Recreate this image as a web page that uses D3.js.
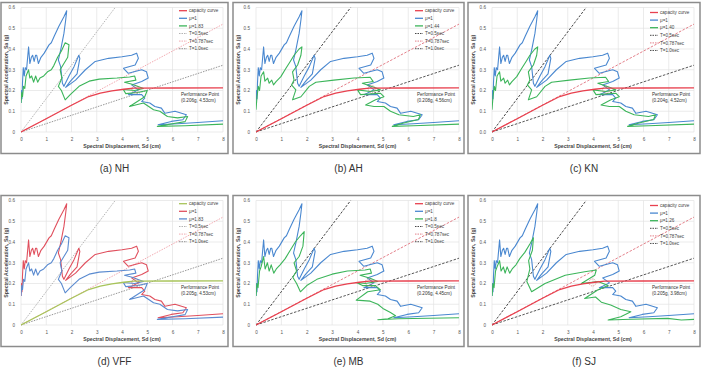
<!DOCTYPE html>
<html>
<head>
<meta charset="utf-8">
<script src="https://cdn.jsdelivr.net/npm/d3@7"></script>
<style>
  body { margin: 0; background: #fff; }
  text { font-family: "Liberation Sans", Arial, sans-serif; }
</style>
</head>
<body>
<div></div>
<script>
// ---- data ----
var captions = ["(a) NH", "(b) AH", "(c) KN", "(d) VFF", "(e) MB", "(f) SJ"];
var muLabels = ["μ=1.83", "μ=1.44", "μ=1.40", "μ=1.83", "μ=1.8", "μ=1.26"];
var perfLabels = ["(0.206g, 4.53cm)", "(0.208g, 4.56cm)", "(0.204g, 4.52cm)",
                  "(0.205g, 4.53cm)", "(0.206g, 4.45cm)", "(0.205g, 3.98cm)"];
var perfSd = [4.53, 4.56, 4.52, 4.53, 4.45, 3.98];
var perfSa = [0.206, 0.208, 0.204, 0.205, 0.206, 0.205];
var periodLabels = ["T=0.5sec", "T=0.787sec", "T=1.0sec"];
// where each constant-period line leaves the plot
var periodEnds = [[3.73, 0.6], [8, 0.52], [8, 0.322]];
var xTicks = [0, 1, 2, 3, 4, 5, 6, 7, 8];
var yTicks = [0, 0.1, 0.2, 0.3, 0.4, 0.5, 0.6];

var capacity = [[0, 0], [1, 0.064], [2, 0.129], [2.68, 0.171], [3.14, 0.187],
                [3.6, 0.198], [4.07, 0.206], [4.46, 0.211], [6, 0.212], [8, 0.213]];

// mu=1 demand spectrum (same record in every panel)
var demand1 = [[0.0, 0.14], [0.02, 0.2], [0.04, 0.16], [0.06, 0.24], [0.09, 0.31], [0.13, 0.27],
  [0.17, 0.31], [0.22, 0.3], [0.3, 0.41], [0.35, 0.33], [0.41, 0.36], [0.46, 0.37], [0.52, 0.34],
  [0.58, 0.37], [0.62, 0.37], [0.69, 0.33], [0.79, 0.36], [0.92, 0.38], [1.11, 0.42], [1.2, 0.43],
  [1.31, 0.46], [1.5, 0.51], [1.7, 0.555], [1.81, 0.584], [1.77, 0.54], [1.7, 0.475], [1.57, 0.395],
  [1.48, 0.347], [1.57, 0.315], [1.64, 0.235], [1.7, 0.22], [1.9, 0.27], [2.1, 0.315], [2.29, 0.37],
  [2.33, 0.355], [2.22, 0.28], [1.96, 0.245], [1.77, 0.215], [2.16, 0.25], [2.55, 0.3], [2.94, 0.34],
  [3.47, 0.355], [4.0, 0.363], [4.38, 0.37], [4.58, 0.38], [4.65, 0.355], [4.52, 0.323], [4.06, 0.307],
  [4.25, 0.283], [4.78, 0.3], [4.97, 0.29], [5.04, 0.26], [4.78, 0.243], [4.38, 0.227], [4.65, 0.203],
  [4.38, 0.187], [4.25, 0.18], [4.78, 0.18], [4.9, 0.163], [4.78, 0.147], [5.1, 0.14], [5.3, 0.123],
  [5.56, 0.115], [5.7, 0.09], [6.1, 0.1], [6.55, 0.083], [6.41, 0.059], [5.95, 0.051], [5.43, 0.035],
  [6.2, 0.04], [7.0, 0.046], [8.0, 0.054]];

// reduced spectra
var reducedA = [[0.0, 0.14], [0.03, 0.19], [0.06, 0.17], [0.1, 0.22], [0.15, 0.21], [0.2, 0.27],
  [0.3, 0.3], [0.35, 0.26], [0.42, 0.27], [0.5, 0.24], [0.58, 0.27], [0.66, 0.24], [0.75, 0.26],
  [0.9, 0.27], [1.05, 0.29], [1.2, 0.3], [1.3, 0.32], [1.45, 0.36], [1.6, 0.39], [1.75, 0.43],
  [1.9, 0.42], [1.85, 0.36], [1.7, 0.33], [1.55, 0.3], [1.62, 0.26], [1.48, 0.22], [1.6, 0.2],
  [1.75, 0.155], [1.95, 0.18], [2.3, 0.22], [2.7, 0.245], [3.1, 0.255], [3.8, 0.26], [4.3, 0.265],
  [4.5, 0.27], [4.55, 0.25], [4.1, 0.24], [4.4, 0.23], [4.85, 0.21], [4.5, 0.2], [4.05, 0.205],
  [4.15, 0.185], [4.6, 0.19], [5.0, 0.2], [4.9, 0.17], [4.3, 0.123], [4.85, 0.14], [5.25, 0.107],
  [5.5, 0.1], [5.8, 0.075], [6.2, 0.068], [6.6, 0.075], [6.5, 0.05], [6.0, 0.04], [5.4, 0.027],
  [6.5, 0.03], [8.0, 0.038]];
var reducedB = [[0.0, 0.107], [0.04, 0.17], [0.09, 0.22], [0.14, 0.2], [0.2, 0.27], [0.3, 0.29],
  [0.35, 0.245], [0.46, 0.26], [0.52, 0.235], [0.62, 0.25], [0.69, 0.227], [0.79, 0.243], [0.98, 0.267],
  [1.18, 0.307], [1.35, 0.34], [1.5, 0.37], [1.7, 0.4], [1.81, 0.41], [1.77, 0.37], [1.64, 0.323],
  [1.44, 0.29], [1.5, 0.25], [1.4, 0.227], [1.57, 0.203], [1.44, 0.155], [1.77, 0.17], [2.1, 0.22],
  [2.36, 0.24], [3.07, 0.25], [3.86, 0.26], [4.5, 0.264], [4.62, 0.243], [4.19, 0.235], [4.65, 0.216],
  [4.9, 0.203], [4.5, 0.195], [4.0, 0.203], [4.12, 0.18], [4.9, 0.187], [5.04, 0.17], [4.71, 0.155],
  [4.32, 0.13], [4.65, 0.123], [5.04, 0.123], [5.3, 0.1], [5.63, 0.083], [6.2, 0.075], [6.48, 0.083],
  [6.4, 0.06], [5.82, 0.043], [5.37, 0.027], [6.2, 0.03], [8.0, 0.038]];
var reducedE = [[0.0, 0.14], [0.04, 0.2], [0.08, 0.18], [0.14, 0.26], [0.2, 0.28], [0.3, 0.33],
  [0.36, 0.27], [0.45, 0.3], [0.52, 0.26], [0.6, 0.29], [0.7, 0.25], [0.8, 0.27], [0.95, 0.29],
  [1.15, 0.32], [1.35, 0.36], [1.55, 0.4], [1.75, 0.43], [1.9, 0.45], [1.85, 0.38], [1.7, 0.33],
  [1.5, 0.3], [1.6, 0.26], [1.45, 0.23], [1.6, 0.2], [1.75, 0.16], [2.0, 0.19], [2.4, 0.22],
  [3.0, 0.245], [3.6, 0.26], [4.3, 0.265], [4.5, 0.27], [4.55, 0.25], [4.1, 0.24], [4.5, 0.225],
  [4.8, 0.21], [4.3, 0.2], [3.95, 0.205], [4.2, 0.19], [4.7, 0.19], [4.9, 0.17], [4.4, 0.16],
  [3.95, 0.12], [4.5, 0.115], [4.8, 0.1], [5.0, 0.08], [5.3, 0.06], [5.5, 0.045], [5.2, 0.03],
  [4.8, 0.025], [5.6, 0.03], [8.0, 0.035]];
var reducedF = [[0.0, 0.14], [0.04, 0.2], [0.08, 0.18], [0.14, 0.26], [0.2, 0.28], [0.3, 0.31],
  [0.36, 0.26], [0.45, 0.28], [0.52, 0.25], [0.6, 0.28], [0.7, 0.25], [0.8, 0.27], [0.95, 0.29],
  [1.1, 0.32], [1.3, 0.35], [1.5, 0.39], [1.64, 0.42], [1.6, 0.36], [1.45, 0.31], [1.5, 0.27],
  [1.38, 0.21], [1.57, 0.16], [2.1, 0.2], [2.9, 0.24], [3.67, 0.257], [4.13, 0.265], [4.07, 0.24],
  [3.54, 0.2], [4.2, 0.21], [4.6, 0.19], [4.2, 0.17], [3.67, 0.128], [4.1, 0.135], [4.33, 0.11],
  [4.7, 0.096], [5.1, 0.075], [5.5, 0.064], [5.1, 0.04], [4.6, 0.024], [5.5, 0.028], [6.95, 0.032],
  [7.5, 0.024], [8.0, 0.027]];
var reducedSets = [reducedA, reducedB, reducedB, reducedA, reducedE, reducedF];

// ---- layout ----
var W = 702, H = 372;
var colFrame = [[1, 228], [233, 464], [468, 700]];
var colPlot = [[21, 223], [256, 459], [492, 694]];
var rowTop = [0, 193];

var svg = d3.select("div").append("svg")
    .attr("width", W).attr("height", H)
    .style("background", "#fff");

var lineColors = {
  normal: { cap: "#e8414f", mu1: "#4a88d0", red: "#3cb55a" },
  vff: { cap: "#a8c45a", mu1: "#e0505e", red: "#5b8bd0" }
};

var drawPanel = function(i) {
  var col = i % 3, row = Math.floor(i / 3);
  var oy = rowTop[row];
  var fx = colFrame[col], px = colPlot[col];
  var top = 7.5 + oy, bottom = 132 + oy;
  var cols = i === 3 ? lineColors.vff : lineColors.normal;
  var light = (i === 0 || i === 3);
  var periodColors = light ? ["#aaaaaa", "#f0a0a8", "#8a8a8a"] : ["#333333", "#e0707c", "#444444"];

  var x = d3.scaleLinear().domain([0, 8]).range([px[0], px[1]]);
  var y = d3.scaleLinear().domain([0, 0.6]).range([bottom, top]);
  var g = svg.append("g");

  // frame
  g.append("rect")
      .attr("x", fx[0]).attr("y", 2.5 + oy)
      .attr("width", fx[1] - fx[0]).attr("height", 151)
      .attr("fill", "#fff").attr("stroke", "#8c8c8c").attr("stroke-width", 1.5);

  // grid
  g.append("g").selectAll("line").data(xTicks).join("line")
      .attr("x1", d => x(d)).attr("x2", d => x(d))
      .attr("y1", top).attr("y2", bottom)
      .attr("stroke", "#e2e2e2").attr("stroke-width", 0.7);
  g.append("g").selectAll("line").data(yTicks).join("line")
      .attr("x1", px[0]).attr("x2", px[1])
      .attr("y1", d => y(d)).attr("y2", d => y(d))
      .attr("stroke", "#e2e2e2").attr("stroke-width", 0.7);

  // axes as d3 axes, no domain line
  var xAxis = g.append("g").attr("transform", "translate(0," + (bottom + 3) + ")")
      .call(d3.axisBottom(x).tickValues(xTicks).tickSize(0).tickFormat(d3.format("d")));
  var yAxis = g.append("g").attr("transform", "translate(" + (px[0] - 3) + ",0)")
      .call(d3.axisLeft(y).tickValues(yTicks).tickSize(0)
            .tickFormat(d => d === 0 && i !== 2 ? "0" : d3.format(".1f")(d)));
  [xAxis, yAxis].forEach(function(a) {
    a.select(".domain").remove();
    a.selectAll("text").attr("font-size", 4.6).attr("fill", "#555")
        .attr("font-family", "Liberation Sans, Arial, sans-serif");
  });

  g.append("text")
      .attr("x", (px[0] + px[1]) / 2).attr("y", bottom + 15.5)
      .attr("text-anchor", "middle").attr("font-size", 5.2).attr("font-weight", "bold")
      .attr("fill", "#444").text("Spectral Displacement, Sd (cm)");
  g.append("text")
      .attr("transform", "translate(" + (fx[0] + 6.5) + "," + ((top + bottom) / 2) + ") rotate(-90)")
      .attr("text-anchor", "middle").attr("font-size", 5.2).attr("font-weight", "bold")
      .attr("fill", "#444").text("Spectral Acceleration, Sa (g)");

  // clip
  var clipId = "clip" + i;
  g.append("clipPath").attr("id", clipId).append("rect")
      .attr("x", px[0]).attr("y", top - 1).attr("width", px[1] - px[0] + 1).attr("height", bottom - top + 2);
  var plot = g.append("g").attr("clip-path", "url(#" + clipId + ")");

  var line = d3.line().x(d => x(d[0])).y(d => y(d[1]));

  // period lines
  periodEnds.forEach(function(e, k) {
    plot.append("path").datum([[0, 0], e]).attr("d", line)
        .attr("fill", "none").attr("stroke", periodColors[k])
        .attr("stroke-width", 0.9).attr("stroke-dasharray", light ? "1.5,1.2" : "2.5,1.5");
  });

  plot.append("path").datum(demand1).attr("d", line)
      .attr("fill", "none").attr("stroke", cols.mu1).attr("stroke-width", 1.1)
      .attr("stroke-linejoin", "round");
  plot.append("path").datum(reducedSets[i]).attr("d", line)
      .attr("fill", "none").attr("stroke", cols.red).attr("stroke-width", 1.1)
      .attr("stroke-linejoin", "round");
  plot.append("path").datum(capacity).attr("d", line)
      .attr("fill", "none").attr("stroke", cols.cap).attr("stroke-width", 1.3);

  // performance point
  plot.append("circle")
      .attr("cx", x(perfSd[i])).attr("cy", y(perfSa[i])).attr("r", 3.5)
      .attr("fill", "none").attr("stroke", "#c0504d").attr("stroke-width", 0.6)
      .attr("stroke-dasharray", "1,1");

  g.append("text").attr("x", px[1] - 42).attr("y", 96 + oy)
      .attr("font-size", 4.6).attr("fill", "#333").text("Performance Point");
  g.append("text").attr("x", px[1] - 42).attr("y", 102 + oy)
      .attr("font-size", 4.6).attr("fill", "#333").text(perfLabels[i]);

  // legend
  var items = [
    { label: "capacity curve", color: cols.cap, dash: null },
    { label: "μ=1", color: cols.mu1, dash: null },
    { label: muLabels[i], color: cols.red, dash: null },
    { label: periodLabels[0], color: periodColors[0], dash: "1.5,1" },
    { label: periodLabels[1], color: periodColors[1], dash: "1.5,1" },
    { label: periodLabels[2], color: periodColors[2], dash: "1.5,1" }
  ];
  var ly0 = (col === 2 ? 12.5 : 10.7) + oy;
  var leg = g.append("g").selectAll("g").data(items).join("g")
      .attr("transform", (d, k) => "translate(" + (px[1] - 44) + "," + (ly0 + k * 7.6) + ")");
  leg.append("line").attr("x1", 0).attr("x2", 8).attr("y1", 0).attr("y2", 0)
      .attr("stroke", d => d.color).attr("stroke-width", d => d.dash ? 0.9 : 1.3)
      .attr("stroke-dasharray", d => d.dash);
  leg.append("text").attr("x", 10).attr("y", 1.6)
      .attr("font-size", 4.6).attr("fill", "#444").text(d => d.label);

  // caption
  svg.append("text")
      .attr("x", (fx[0] + fx[1]) / 2).attr("y", 172 + oy)
      .attr("text-anchor", "middle")
      .attr("font-family", "Noto Sans CJK KR, sans-serif")
      .attr("font-size", 10).attr("fill", "#333")
      .text(captions[i]);
};

for (var i = 0; i < 6; i++) {
  drawPanel(i);
}
</script>
</body>
</html>
